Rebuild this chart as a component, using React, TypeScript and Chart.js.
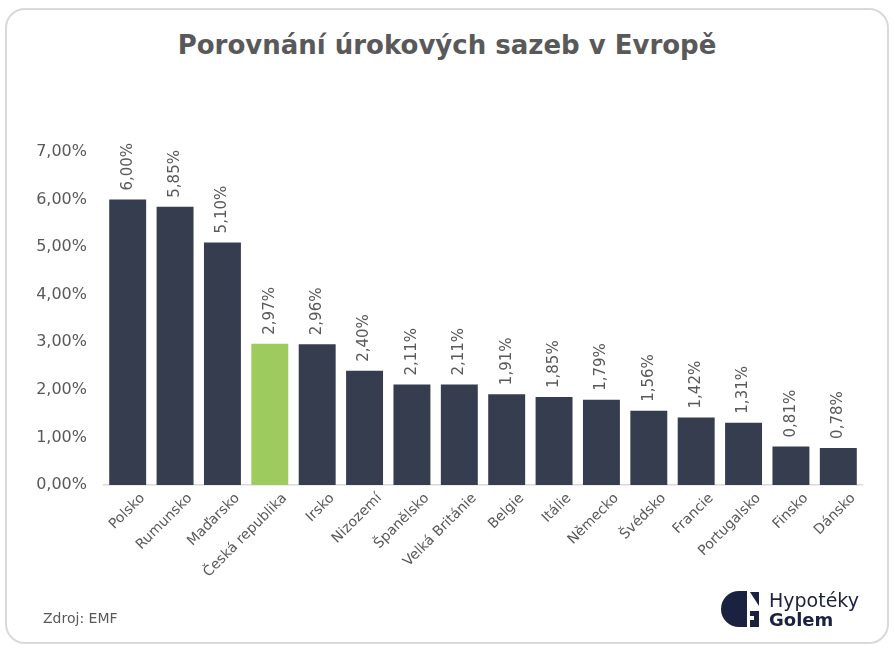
import React, { useEffect, useRef } from "react";
import { Chart, registerables } from "chart.js";

Chart.register(...registerables);

const categories = [
  "Polsko", "Rumunsko", "Maďarsko", "Česká republika", "Irsko", "Nizozemí",
  "Španělsko", "Velká Británie", "Belgie", "Itálie", "Německo", "Švédsko",
  "Francie", "Portugalsko", "Finsko", "Dánsko",
];
const rates = [6.0, 5.85, 5.1, 2.97, 2.96, 2.4, 2.11, 2.11, 1.91, 1.85, 1.79, 1.56, 1.42, 1.31, 0.81, 0.78];
const highlighted = "Česká republika";
const yTicks = [0, 1, 2, 3, 4, 5, 6, 7];

const FONT = "'DejaVu Sans', sans-serif";
const GRAY = "#595959";
const DARK = "#363D4E";
const GREEN = "#9DCB5E";

const fmt = (v: number) => v.toFixed(2).replace(".", ",") + "%";

const labelPlugin = {
  id: "customLabels",
  afterDatasetsDraw(chart: any) {
    const ctx = chart.ctx;
    const meta = chart.getDatasetMeta(0);
    ctx.save();
    ctx.fillStyle = GRAY;
    // value labels
    ctx.font = `15px ${FONT}`;
    meta.data.forEach((bar: any, i: number) => {
      ctx.save();
      ctx.translate(bar.x, bar.y - 9);
      ctx.rotate(-Math.PI / 2);
      ctx.textAlign = "left";
      ctx.textBaseline = "middle";
      ctx.fillText(fmt(rates[i]), 0, 0);
      ctx.restore();
    });
    // category labels
    const xs = chart.scales.x;
    ctx.font = `14px ${FONT}`;
    categories.forEach((c, i) => {
      const x = xs.getPixelForTick(i);
      ctx.save();
      ctx.translate(x + 15, xs.top + 11);
      ctx.rotate(-Math.PI / 4);
      ctx.textAlign = "right";
      ctx.textBaseline = "middle";
      ctx.fillText(c, 0, 0);
      ctx.restore();
    });
    ctx.restore();
  },
};

export default function App() {
  const ref = useRef<HTMLCanvasElement>(null);
  useEffect(() => {
    if (!ref.current) return;
    const chart = new Chart(ref.current, {
      type: "bar",
      data: {
        labels: categories,
        datasets: [
          {
            data: rates,
            backgroundColor: categories.map((c) => (c === highlighted ? GREEN : DARK)),
            barPercentage: 0.78,
            categoryPercentage: 1,
          },
        ],
      },
      options: {
        animation: false,
        responsive: false,
        devicePixelRatio: 1,
        layout: { padding: { left: 0, top: 152, right: 32, bottom: 0 } },
        plugins: { legend: { display: false }, tooltip: { enabled: false }, title: { display: false } },
        scales: {
          y: {
            min: 0,
            max: 7,
            afterBuildTicks: (s: any) => {
              s.ticks = yTicks.map((v) => ({ value: v }));
            },
            afterFit: (s: any) => {
              s.width = 104;
            },
            grid: { display: false, drawTicks: false },
            border: { display: false },
            ticks: {
              padding: 17,
              color: GRAY,
              font: { family: FONT, size: 16 },
              callback: (v: any) => fmt(Number(v)),
            },
          },
          x: {
            afterFit: (s: any) => {
              s.height = 165;
            },
            grid: { display: false, drawTicks: false },
            border: { display: true, color: "#D9D9D9", width: 1.5 },
            ticks: { display: false },
          },
        },
      },
      plugins: [labelPlugin],
    } as any);
    return () => chart.destroy();
  }, []);

  return (
    <div style={{ position: "fixed", left: 0, top: 0, width: 894, height: 650, background: "#fff", fontFamily: FONT }}>
      <div
        style={{
          position: "absolute", left: 5, top: 8, width: 880, height: 632,
          border: "2px solid #D9D9D9", borderRadius: 20, boxSizing: "content-box",
        }}
      />
      <div
        style={{
          position: "absolute", left: 0, top: 30, width: 894, textAlign: "center",
          fontWeight: "bold", fontSize: 26, color: GRAY,
        }}
      >
        Porovnání úrokových sazeb v Evropě
      </div>
      <canvas ref={ref} width={894} height={650} style={{ position: "absolute", left: 0, top: 0 }} />
      <div style={{ position: "absolute", left: 43, top: 610, fontSize: 14, color: GRAY }}>Zdroj: EMF</div>
      <svg width={40} height={38} viewBox="0 0 40 38" style={{ position: "absolute", left: 721, top: 590 }}>
        <path d="M26 1 L26 37 L18 37 A18 18 0 0 1 18 1 Z" fill="#1B2140" />
        <path d="M29 2 L38 2 L38 16 Z" fill="#1B2140" />
        <path d="M29 21 L38 21 L38 37 L29 37 L29 30 L33 30 L33 26 L29 26 Z" fill="#1B2140" />
      </svg>
      <div style={{ position: "absolute", left: 769, top: 589, fontSize: 19, color: "#1B2140", lineHeight: "22px" }}>Hypotéky</div>
      <div style={{ position: "absolute", left: 769, top: 609, fontSize: 18, fontWeight: "bold", color: "#1B2140", lineHeight: "22px" }}>Golem</div>
    </div>
  );
}
